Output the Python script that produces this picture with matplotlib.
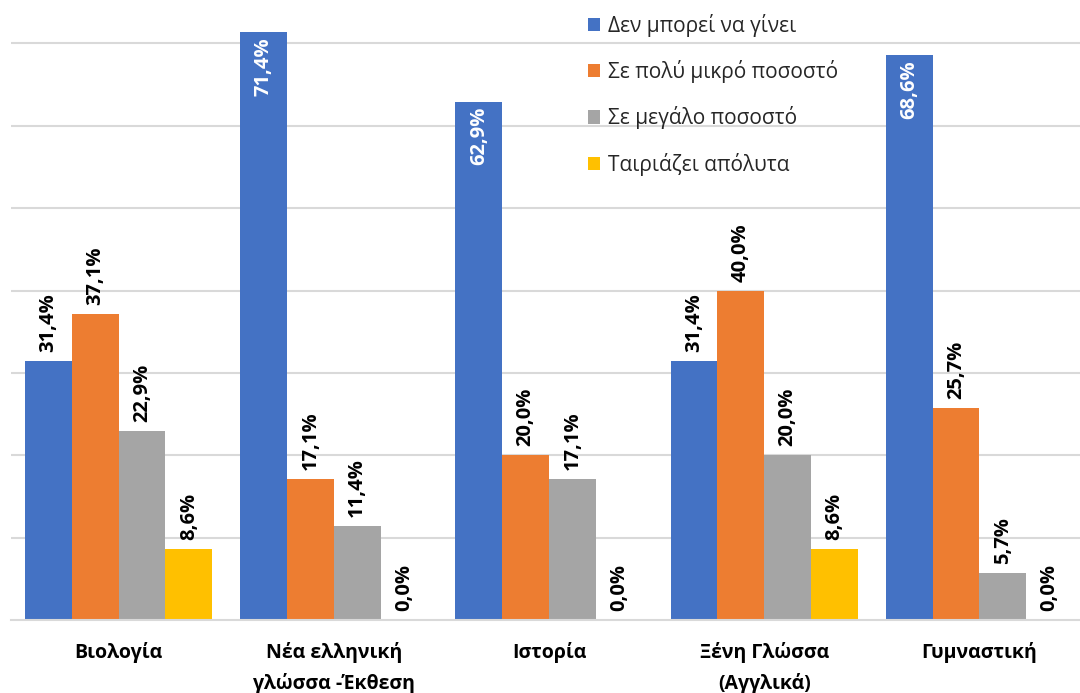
import matplotlib
matplotlib.use("Agg")
import matplotlib.pyplot as plt
from matplotlib.patches import Patch
import numpy as np

plt.rcParams['font.family'] = ['Open Sans', 'DejaVu Sans']

categories = ["Βιολογία", "Νέα ελληνική\nγλώσσα -Έκθεση", "Ιστορία",
              "Ξένη Γλώσσα\n(Αγγλικά)", "Γυμναστική"]
series_names = ["Δεν μπορεί να γίνει", "Σε πολύ μικρό ποσοστό",
                "Σε μεγάλο ποσοστό", "Ταιριάζει απόλυτα"]
cant_happen = [31.4, 71.4, 62.9, 31.4, 68.6]
very_small = [37.1, 17.1, 20.0, 40.0, 25.7]
large = [22.9, 11.4, 17.1, 20.0, 5.7]
fits_fully = [8.6, 0.0, 0.0, 8.6, 0.0]
series = [cant_happen, very_small, large, fits_fully]
colors = ["#4472C4", "#ED7D31", "#A5A5A5", "#FFC000"]

W, H = 1080, 693
fig = plt.figure(figsize=(W / 100, H / 100), dpi=100)
base_px = 620
ax = fig.add_axes([11 / W, (H - base_px) / H, 1076 / W, base_px / H])

x = np.arange(len(categories))
bw = 0.87 / 4
for i, (vals, col) in enumerate(zip(series, colors)):
    pos = x - 0.435 + bw * (i + 0.5)
    bars = ax.bar(pos, vals, width=bw, color=col, zorder=2)
    for b, v in zip(bars, vals):
        txt = f"{v:.1f}%".replace(".", ",")
        cx = b.get_x() + b.get_width() / 2
        if v > 60:
            ax.annotate(txt, (cx, v), xytext=(0, -5), textcoords="offset pixels",
                        rotation=90, ha="center", va="top", color="white",
                        fontsize=14.5, fontweight="bold")
        else:
            ax.annotate(txt, (cx, v), xytext=(0, 9), textcoords="offset pixels",
                        rotation=90, ha="center", va="bottom", color="black",
                        fontsize=14.5, fontweight="bold")

ax.set_xlim(-0.5, 4.5)
ax.set_ylim(0, base_px / 82.36 * 10)
ax.set_yticks(np.arange(10, 80, 10))
ax.yaxis.grid(True, color="#D9D9D9", linewidth=1.5, zorder=0)
ax.set_axisbelow(True)
ax.tick_params(axis="y", left=False, labelleft=False)
ax.tick_params(axis="x", bottom=False, pad=12)
ax.set_xticks(x)
ax.set_xticklabels(categories, fontsize=14, fontweight="bold", color="black",
                   linespacing=1.65)
for s in ["top", "right", "left"]:
    ax.spines[s].set_visible(False)
ax.spines["bottom"].set_color("#D9D9D9")
ax.spines["bottom"].set_linewidth(1.5)

handles = [Patch(facecolor=c, edgecolor="none") for c in colors]
fig.legend(handles, series_names, loc="upper left",
           bbox_to_anchor=(569 / W, 1 + 5 / H), frameon=False, fontsize=15,
           handlelength=0.6, handleheight=0.6, handletextpad=0.35,
           labelspacing=1.12, labelcolor="#262626")

fig.savefig("out.png", dpi=100)
